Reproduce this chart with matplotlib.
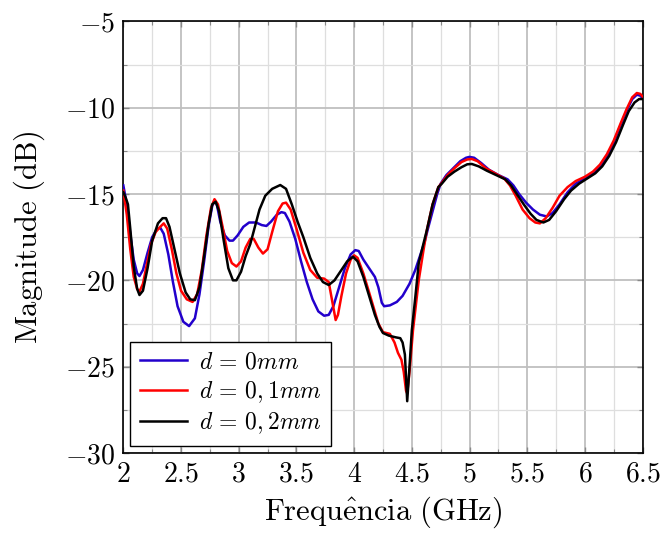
import matplotlib
matplotlib.use('Agg')
import matplotlib.pyplot as plt
import matplotlib.ticker as ticker

# (frequency in GHz, magnitude in dB)
freq_d0 = [2.00, 2.03, 2.06, 2.09, 2.12, 2.14, 2.17, 2.21, 2.25, 2.29, 2.32, 2.35, 2.39, 2.43,
           2.47, 2.52, 2.57, 2.62, 2.66, 2.70, 2.74, 2.77, 2.79, 2.81, 2.84, 2.88, 2.92, 2.95,
           2.99, 3.04, 3.09, 3.15, 3.20, 3.24, 3.28, 3.33, 3.37, 3.40, 3.44, 3.49, 3.54, 3.59,
           3.64, 3.69, 3.74, 3.78, 3.82, 3.87, 3.92, 3.97, 4.01, 4.04, 4.08, 4.13, 4.18, 4.21,
           4.24, 4.26, 4.31, 4.37, 4.42, 4.48, 4.53, 4.57, 4.61, 4.64, 4.68, 4.72, 4.75, 4.80,
           4.86, 4.92, 4.97, 5.00, 5.04, 5.10, 5.17, 5.25, 5.33, 5.38, 5.43, 5.49, 5.55, 5.61,
           5.67, 5.72, 5.78, 5.85, 5.92, 6.00, 6.07, 6.13, 6.19, 6.25, 6.31, 6.36, 6.41, 6.45,
           6.48, 6.50]
mag_d0 = [-14.5, -15.6, -17.3, -18.8, -19.6, -19.75, -19.4, -18.4, -17.5, -17.05, -16.95, -17.3,
          -18.5, -20.1, -21.5, -22.4, -22.65, -22.2, -20.8, -18.9, -16.8, -15.7, -15.4, -15.6,
          -16.6, -17.4, -17.7, -17.7, -17.4, -16.9, -16.65, -16.65, -16.8, -16.85, -16.6, -16.2,
          -16.05, -16.1, -16.6, -17.6, -18.9, -20.1, -21.1, -21.8, -22.05, -22.0, -21.5, -20.4,
          -19.3, -18.5, -18.25, -18.3, -18.8, -19.3, -19.8, -20.4, -21.3, -21.5, -21.45, -21.25,
          -20.9, -20.2, -19.4, -18.6, -17.8, -17.0, -16.0, -15.0, -14.4, -13.9, -13.5, -13.1,
          -12.9, -12.85, -12.9, -13.2, -13.6, -13.9, -14.15, -14.5, -15.0, -15.5, -15.9, -16.2,
          -16.3, -16.1, -15.6, -14.9, -14.4, -14.1, -13.8, -13.4, -12.8, -12.0, -11.0, -10.2,
          -9.5, -9.25, -9.3, -9.45]

freq_d01 = [2.00, 2.03, 2.06, 2.09, 2.12, 2.14, 2.17, 2.20, 2.24, 2.28, 2.32, 2.35, 2.38, 2.42,
            2.46, 2.50, 2.55, 2.60, 2.64, 2.68, 2.72, 2.76, 2.79, 2.82, 2.86, 2.90, 2.94, 2.98,
            3.02, 3.06, 3.10, 3.13, 3.17, 3.21, 3.25, 3.29, 3.34, 3.38, 3.41, 3.45, 3.50, 3.56,
            3.62, 3.68, 3.74, 3.78, 3.81, 3.84, 3.86, 3.89, 3.93, 3.97, 4.00, 4.03, 4.08, 4.13,
            4.17, 4.21, 4.25, 4.31, 4.35, 4.38, 4.41, 4.43, 4.45, 4.46, 4.48, 4.51, 4.56, 4.60,
            4.63, 4.68, 4.73, 4.76, 4.81, 4.87, 4.93, 4.98, 5.02, 5.07, 5.14, 5.22, 5.30, 5.35,
            5.40, 5.46, 5.52, 5.57, 5.61, 5.66, 5.72, 5.78, 5.85, 5.92, 6.00, 6.07, 6.13, 6.19,
            6.25, 6.31, 6.36, 6.41, 6.45, 6.48, 6.50]
mag_d01 = [-14.8, -16.2, -18.2, -19.8, -20.5, -20.65, -20.2, -19.2, -17.9, -17.2, -16.9, -16.7,
           -17.0, -18.2, -19.6, -20.6, -21.1, -21.25, -20.8, -19.4, -17.4, -15.8, -15.3, -15.6,
           -16.9, -18.3, -19.0, -19.2, -18.9, -18.1, -17.6, -17.6, -18.1, -18.45, -18.2, -17.2,
           -16.0, -15.55, -15.5, -15.9, -17.0, -18.4, -19.4, -19.85, -19.9, -20.1, -21.2, -22.3,
           -22.0, -20.9, -19.6, -18.8, -18.55, -18.7, -19.6, -20.7, -21.6, -22.5, -23.0, -23.1,
           -23.6, -24.2, -24.6, -25.3, -26.4, -26.55, -25.3, -22.9, -20.0, -18.3, -17.1, -15.6,
           -14.6, -14.35, -13.9, -13.5, -13.15, -13.0, -12.97, -13.1, -13.5, -13.8, -14.1, -14.5,
           -15.1, -15.9, -16.4, -16.65, -16.7, -16.4, -15.8, -15.1, -14.6, -14.25, -14.0, -13.7,
           -13.3, -12.7, -11.9, -10.9, -10.1, -9.4, -9.15, -9.2, -9.36]

freq_d02 = [2.00, 2.02, 2.04, 2.06, 2.09, 2.12, 2.14, 2.17, 2.21, 2.25, 2.30, 2.34, 2.37, 2.40,
            2.44, 2.49, 2.54, 2.58, 2.62, 2.66, 2.70, 2.74, 2.77, 2.80, 2.83, 2.87, 2.91, 2.95,
            2.98, 3.02, 3.06, 3.10, 3.14, 3.18, 3.23, 3.29, 3.36, 3.41, 3.46, 3.51, 3.56, 3.62,
            3.68, 3.73, 3.78, 3.83, 3.88, 3.94, 3.99, 4.03, 4.08, 4.13, 4.18, 4.22, 4.25, 4.30,
            4.36, 4.40, 4.42, 4.44, 4.46, 4.48, 4.50, 4.53, 4.56, 4.60, 4.63, 4.68, 4.73, 4.76,
            4.81, 4.87, 4.93, 4.98, 5.02, 5.08, 5.15, 5.23, 5.31, 5.36, 5.41, 5.47, 5.53, 5.58,
            5.64, 5.69, 5.75, 5.82, 5.88, 5.95, 6.02, 6.09, 6.15, 6.21, 6.27, 6.33, 6.38, 6.43,
            6.47, 6.50]
mag_d02 = [-14.9, -15.2, -15.6, -17.0, -19.2, -20.5, -20.85, -20.6, -19.3, -17.7, -16.7, -16.4,
           -16.4, -16.9, -18.1, -19.6, -20.7, -21.1, -21.15, -20.4, -18.6, -16.7, -15.6, -15.45,
           -16.0, -17.7, -19.3, -20.0, -20.0, -19.5, -18.6, -17.9, -16.9, -15.9, -15.1, -14.7,
           -14.48, -14.7, -15.6, -16.6, -17.5, -18.7, -19.6, -20.1, -20.27, -20.0, -19.5, -18.9,
           -18.63, -18.9, -19.8, -20.9, -22.0, -22.7, -23.05, -23.2, -23.3, -23.35, -23.6, -24.3,
           -27.0, -25.0, -22.9, -21.0, -19.0, -17.9, -17.1, -15.6, -14.6, -14.4, -14.0, -13.7,
           -13.45, -13.28, -13.26, -13.4, -13.65, -13.9, -14.15, -14.5, -15.0, -15.6, -16.15,
           -16.5, -16.65, -16.5, -16.0, -15.3, -14.8, -14.4, -14.1, -13.8, -13.4, -12.8, -12.0,
           -11.0, -10.2, -9.7, -9.5, -9.5]

labels = [r'$d\,=\,0mm$', r'$d\,=\,0,1mm$', r'$d\,=\,0,2mm$']
colors = ['#2200cc', '#ff0000', '#000000']

# Font settings (Computer Modern look)
plt.rcParams.update({'mathtext.fontset': 'cm', 'font.family': 'serif',
                     'font.serif': ['cmr10', 'DejaVu Serif'],
                     'axes.formatter.use_mathtext': True})

fig = plt.figure(figsize=(6.62, 5.34), dpi=100)
ax = fig.add_axes([0.1863, 0.1517, 0.7844, 0.8083])

for fx, my, label, color in zip([freq_d0, freq_d01, freq_d02], [mag_d0, mag_d01, mag_d02],
                                labels, colors):
    ax.plot(fx, my, color=color, linewidth=1.8, label=label, zorder=3)

ax.set_xlim(2, 6.5)
ax.set_ylim(-30, -5)
ax.xaxis.set_major_locator(ticker.MultipleLocator(0.5))
ax.xaxis.set_minor_locator(ticker.MultipleLocator(0.25))
ax.yaxis.set_major_locator(ticker.MultipleLocator(5))
ax.yaxis.set_minor_locator(ticker.MultipleLocator(2.5))
ax.xaxis.set_major_formatter(ticker.FuncFormatter(lambda v, p: f'${v:g}$'))
ax.yaxis.set_major_formatter(ticker.FuncFormatter(lambda v, p: f'${v:g}$'))

ax.grid(True, which='major', color='#bfbfbf', linewidth=1.3, zorder=0)
ax.grid(True, which='minor', color='#dedede', linewidth=0.9, zorder=0)
ax.set_axisbelow(True)
ax.tick_params(which='both', direction='in', top=True, right=True, labelsize=20,
               color='#888888', pad=6)
ax.tick_params(which='major', length=4, width=1)
ax.tick_params(which='minor', length=3, width=0.8)
for s in ax.spines.values():
    s.set_linewidth(1.2)

ax.set_xlabel(r'$\mathrm{Frequ\hat{e}ncia\ (GHz)}$', fontsize=22, labelpad=5)
ax.set_ylabel(r'$\mathrm{Magnitude\ (dB)}$', fontsize=22, labelpad=13)

leg = ax.legend(loc='lower left', fontsize=17, fancybox=False, edgecolor='black',
                framealpha=1, borderaxespad=0.3, handlelength=2.0, labelspacing=0.25,
                borderpad=0.4, handletextpad=0.5)
leg.get_frame().set_linewidth(1.0)

fig.savefig('out.png', dpi=100)
